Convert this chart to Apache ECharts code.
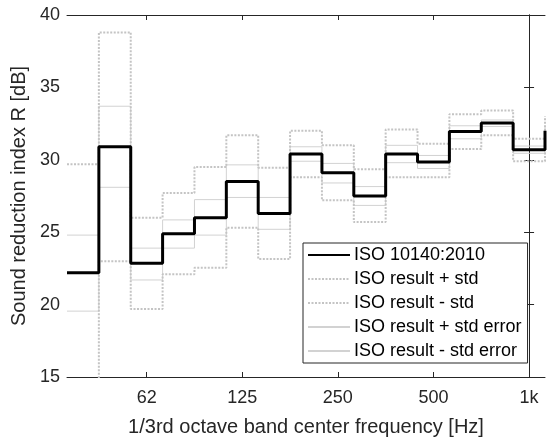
<!DOCTYPE html>
<html>
<head>
<meta charset="utf-8">
<script src="https://cdn.jsdelivr.net/npm/echarts@6/dist/echarts.min.js"></script>
<style>
  html, body { margin: 0; padding: 0; background: #fff; }
  #chart { width: 547px; height: 442px; }
</style>
</head>
<body>
<div id="chart"></div>
<script>
// 1/3 octave band centre frequencies [Hz]
const bands = [40, 50, 63, 80, 100, 125, 160, 200, 250, 315, 400, 500, 630, 800, 1000, 1250];

// sound reduction index R [dB] per band
const isoR = [22.2, 30.9, 22.85, 24.9, 26.0, 28.5, 26.3, 30.4, 29.1, 27.5, 30.4, 29.85, 31.95, 32.55, 30.7, 32.0];
const stdUpper = [29.7, 38.8, 26.0, 27.7, 29.5, 31.7, 29.45, 32.0, 31.0, 29.35, 32.1, 31.1, 33.15, 33.4, 31.45, 33.0];
const stdLower = [14.7, 23.0, 19.7, 22.1, 22.55, 25.3, 23.15, 28.8, 27.2, 25.7, 28.8, 28.8, 30.75, 31.7, 29.9, 31.0];
const seUpper = [24.8, 33.7, 23.9, 25.85, 27.25, 29.65, 27.4, 30.9, 29.75, 28.15, 31.0, 30.3, 32.35, 32.75, 30.95, 32.35];
const seLower = [19.55, 28.1, 21.7, 23.9, 24.8, 27.4, 25.2, 29.9, 28.4, 26.85, 29.8, 29.4, 31.45, 32.3, 30.45, 31.65];

// x ticks (Hz) and their labels
const tickFreqs = [62.5, 125, 250, 500, 1000];
const tickLabels = ['62', '125', '250', '500', '1k'];

const names = ['ISO 10140:2010', 'ISO result + std', 'ISO result - std',
  'ISO result + std error', 'ISO result - std error'];

// x axis is in octaves relative to 1 kHz (log frequency)
const oct = (f) => Math.round(3 * Math.log2(f / 1000)) / 3;
// stairs: each band value starts at the band's lower edge
const stairs = (vals) => vals.map((v, i) => [oct(bands[i]) - 1 / 6, v]);

const xMin = oct(bands[0]) - 1 / 6;
const xMax = oct(1000) + 1 / 6;
const tickPos = tickFreqs.map((f) => Math.log2(f / 1000));
const labelOf = (v) => {
  const k = tickPos.findIndex((p) => Math.abs(p - v) < 1e-6);
  return k >= 0 ? tickLabels[k] : '';
};

const axisCol = '#262626';
const font = 'Liberation Sans, Arial, sans-serif';
const dotted = { color: '#c4c4c4', width: 2, type: [2, 1.5] };
const thin = { color: '#d2d2d2', width: 1, type: 'solid' };

const chart = echarts.init(document.getElementById('chart'), null, { renderer: 'canvas' });

const mkSeries = (name, vals, style, z) => ({
  name,
  type: 'line',
  step: 'end',
  data: stairs(vals),
  symbol: 'none',
  legendIcon: 'none',
  lineStyle: style,
  itemStyle: { color: style.color },
  z,
  animation: false,
  clip: true
});

chart.setOption({
  animation: false,
  textStyle: { fontFamily: font },
  grid: { left: 67, right: 2, top: 15, bottom: 62 },
  xAxis: [{
    type: 'value',
    min: xMin,
    max: xMax,
    name: '1/3rd octave band center frequency [Hz]',
    nameLocation: 'middle',
    nameGap: 40,
    nameTextStyle: { fontSize: 20, color: axisCol, fontFamily: font },
    axisLine: { lineStyle: { color: axisCol, width: 1 } },
    axisTick: { inside: true, length: 5, customValues: tickPos, lineStyle: { color: axisCol } },
    axisLabel: { customValues: tickPos, formatter: labelOf, fontSize: 18, color: axisCol, margin: 12, fontFamily: font },
    splitLine: { show: false }
  }, {
    type: 'value',
    position: 'top',
    min: xMin,
    max: xMax,
    axisLine: { show: true, lineStyle: { color: axisCol, width: 1 } },
    axisTick: { inside: true, length: 5, customValues: tickPos, lineStyle: { color: axisCol } },
    axisLabel: { show: false },
    splitLine: { show: false }
  }],
  yAxis: [{
    type: 'value',
    min: 15,
    max: 40,
    interval: 5,
    name: 'Sound reduction index R [dB]',
    nameLocation: 'middle',
    nameGap: 33,
    nameTextStyle: { fontSize: 20, color: axisCol, fontFamily: font },
    axisLine: { show: true, lineStyle: { color: axisCol, width: 1 } },
    axisTick: { show: true, inside: true, length: 5, lineStyle: { color: axisCol } },
    axisLabel: { fontSize: 18, color: axisCol, margin: 7, fontFamily: font },
    splitLine: { show: false }
  }, {
    type: 'value',
    position: 'right',
    min: 15,
    max: 40,
    interval: 5,
    axisLine: { show: true, lineStyle: { color: axisCol, width: 1 } },
    axisTick: { show: true, inside: true, length: 5, lineStyle: { color: axisCol } },
    axisLabel: { show: false },
    splitLine: { show: false }
  }],
  legend: {
    orient: 'vertical',
    left: 303,
    top: 243,
    data: names,
    itemWidth: 42,
    itemHeight: 18,
    itemGap: 6,
    padding: [3, 6, 3, 4],
    borderColor: axisCol,
    borderWidth: 1,
    backgroundColor: '#fff',
    itemStyle: { opacity: 0 },
    textStyle: { fontSize: 18, color: '#000', fontFamily: font, padding: [0, 0, 0, -1] },
    selectedMode: false
  },
  series: [
    mkSeries(names[3], seUpper, thin, 2),
    mkSeries(names[4], seLower, thin, 2),
    mkSeries(names[1], stdUpper, dotted, 3),
    mkSeries(names[2], stdLower, dotted, 3),
    mkSeries(names[0], isoR, { color: '#000', width: 3, type: 'solid' }, 5)
  ]
});
</script>
</body>
</html>
